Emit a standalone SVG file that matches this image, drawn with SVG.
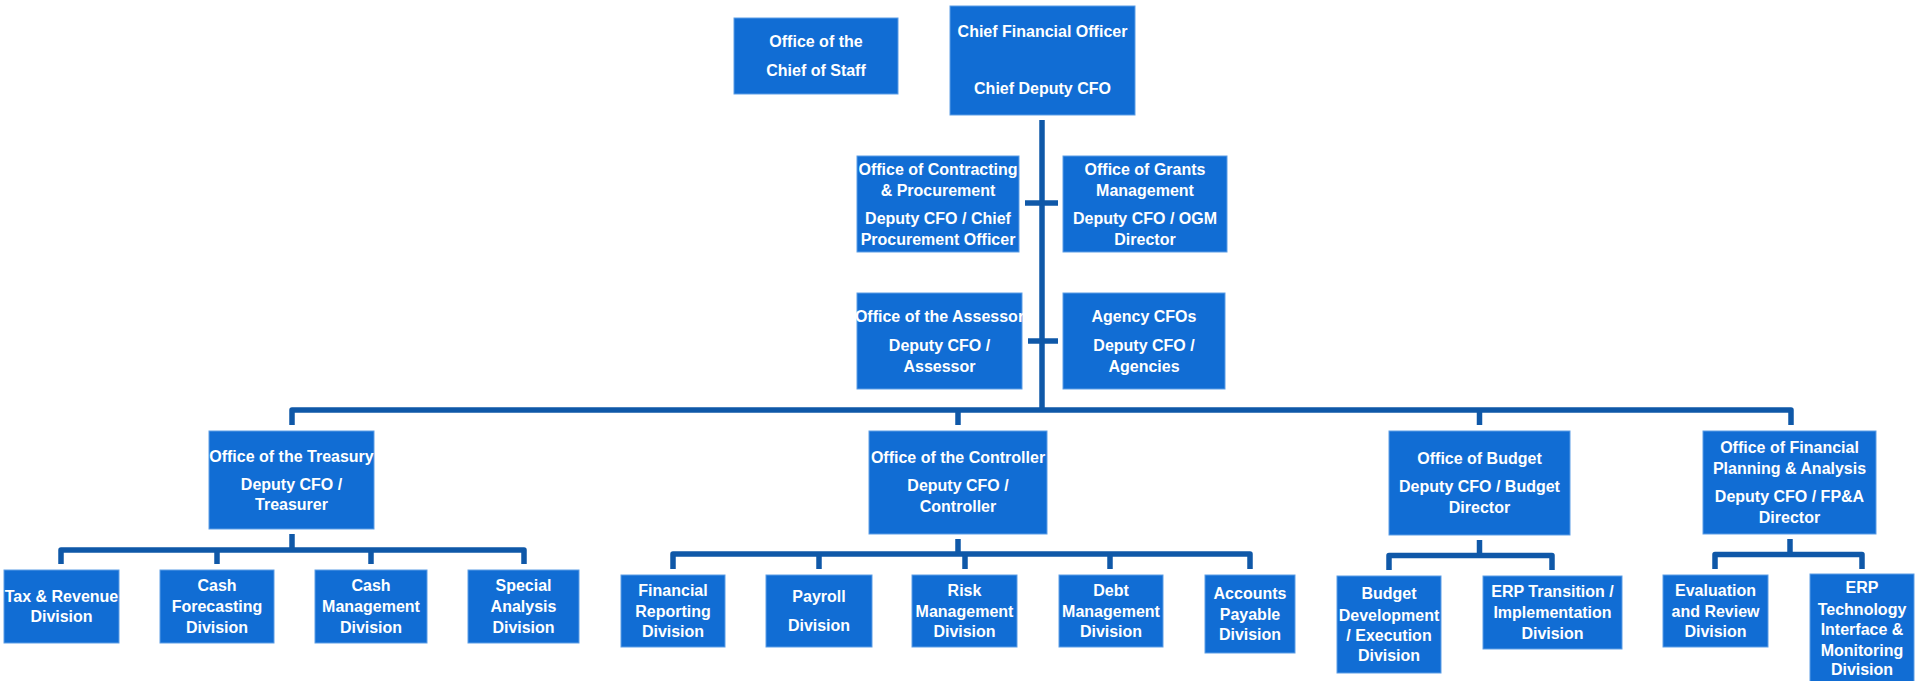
<svg xmlns="http://www.w3.org/2000/svg" width="1915" height="681" viewBox="0 0 1915 681">
<style>
.box{fill:#116dd4;stroke:#5d9ee6;stroke-width:1}
.t{fill:#ffffff;font-family:"Liberation Sans",Arial,sans-serif;font-weight:bold;font-size:16px;text-anchor:middle}
.c{fill:none;stroke:#0f58a8;stroke-width:5.5;stroke-linejoin:round}
</style>
<rect width="1915" height="681" fill="#ffffff"/>
<g id="connectors">
<path class="c" d="M1042 120 V410" stroke-width="6"/>
<path class="c" d="M1025 203 H1058"/>
<path class="c" d="M1028 341 H1058"/>
<path class="c" d="M292 425 V410 H1791 V425"/>
<path class="c" d="M958 410 V425"/>
<path class="c" d="M1479.5 410 V425"/>
<path class="c" d="M292 534 V550"/>
<path class="c" d="M61 564 V550 H524 V564"/>
<path class="c" d="M217 550 V564"/>
<path class="c" d="M371 550 V564"/>
<path class="c" d="M958 539 V554"/>
<path class="c" d="M673 569 V554 H1250 V569"/>
<path class="c" d="M819 554 V569"/>
<path class="c" d="M965 554 V569"/>
<path class="c" d="M1110 554 V569"/>
<path class="c" d="M1479.5 540 V555.5"/>
<path class="c" d="M1389 570 V555.5 H1552 V570"/>
<path class="c" d="M1790 539 V554.5"/>
<path class="c" d="M1715 569 V554.5 H1862 V569"/>
</g>
<g id="chief-of-staff"><rect class="box" x="734" y="18" width="164" height="76"/>
<text class="t" x="816" y="47">Office of the</text><text class="t" x="816" y="75.5">Chief of Staff</text></g>
<g id="cfo"><rect class="box" x="950" y="6" width="185" height="109"/>
<text class="t" x="1042.5" y="37">Chief Financial Officer</text><text class="t" x="1042.5" y="94">Chief Deputy CFO</text></g>
<g id="contracting"><rect class="box" x="857" y="156" width="162" height="96"/>
<text class="t" x="938" y="175">Office of Contracting</text><text class="t" x="938" y="195.5">&amp; Procurement</text>
<text class="t" x="938" y="224">Deputy CFO / Chief</text><text class="t" x="938" y="244.5">Procurement Officer</text></g>
<g id="grants"><rect class="box" x="1063" y="156" width="164" height="96"/>
<text class="t" x="1145" y="175">Office of Grants</text><text class="t" x="1145" y="195.5">Management</text>
<text class="t" x="1145" y="224">Deputy CFO / OGM</text><text class="t" x="1145" y="244.5">Director</text></g>
<g id="assessor"><rect class="box" x="857" y="293" width="165" height="96"/>
<text class="t" x="939.5" y="322">Office of the Assessor</text><text class="t" x="939.5" y="350.5">Deputy CFO /</text><text class="t" x="939.5" y="371.5">Assessor</text></g>
<g id="agency"><rect class="box" x="1063" y="293" width="162" height="96"/>
<text class="t" x="1144" y="322">Agency CFOs</text><text class="t" x="1144" y="350.5">Deputy CFO /</text><text class="t" x="1144" y="371.5">Agencies</text></g>
<g id="treasury"><rect class="box" x="209" y="431" width="165" height="98"/>
<text class="t" x="291.5" y="461.5">Office of the Treasury</text><text class="t" x="291.5" y="489.5">Deputy CFO /</text><text class="t" x="291.5" y="510">Treasurer</text></g>
<g id="controller"><rect class="box" x="869" y="431" width="178" height="103"/>
<text class="t" x="958" y="463">Office of the Controller</text><text class="t" x="958" y="491">Deputy CFO /</text><text class="t" x="958" y="512">Controller</text></g>
<g id="budget"><rect class="box" x="1389" y="431" width="181" height="104"/>
<text class="t" x="1479.5" y="464">Office of Budget</text><text class="t" x="1479.5" y="492">Deputy CFO / Budget</text><text class="t" x="1479.5" y="512.5">Director</text></g>
<g id="fpa"><rect class="box" x="1703" y="431" width="173" height="103"/>
<text class="t" x="1789.5" y="453">Office of Financial</text><text class="t" x="1789.5" y="474">Planning &amp; Analysis</text>
<text class="t" x="1789.5" y="502">Deputy CFO / FP&amp;A</text><text class="t" x="1789.5" y="523">Director</text></g>
<g id="tax-revenue"><rect class="box" x="4" y="570" width="115" height="73"/>
<text class="t" x="61.5" y="602">Tax &amp; Revenue</text><text class="t" x="61.5" y="622">Division</text></g>
<g id="cash-forecasting"><rect class="box" x="160" y="570" width="114" height="73"/>
<text class="t" x="217" y="590.5">Cash</text><text class="t" x="217" y="612">Forecasting</text><text class="t" x="217" y="632.5">Division</text></g>
<g id="cash-management"><rect class="box" x="315" y="570" width="112" height="73"/>
<text class="t" x="371" y="590.5">Cash</text><text class="t" x="371" y="612">Management</text><text class="t" x="371" y="632.5">Division</text></g>
<g id="special-analysis"><rect class="box" x="468" y="570" width="111" height="73"/>
<text class="t" x="523.5" y="590.5">Special</text><text class="t" x="523.5" y="612">Analysis</text><text class="t" x="523.5" y="632.5">Division</text></g>
<g id="financial-reporting"><rect class="box" x="621" y="575" width="104" height="72"/>
<text class="t" x="673" y="596">Financial</text><text class="t" x="673" y="617">Reporting</text><text class="t" x="673" y="636.5">Division</text></g>
<g id="payroll"><rect class="box" x="766" y="575" width="106" height="72"/>
<text class="t" x="819" y="602">Payroll</text><text class="t" x="819" y="631">Division</text></g>
<g id="risk"><rect class="box" x="912" y="575" width="105" height="72"/>
<text class="t" x="964.5" y="596">Risk</text><text class="t" x="964.5" y="617">Management</text><text class="t" x="964.5" y="636.5">Division</text></g>
<g id="debt"><rect class="box" x="1059" y="575" width="104" height="72"/>
<text class="t" x="1111" y="596">Debt</text><text class="t" x="1111" y="617">Management</text><text class="t" x="1111" y="636.5">Division</text></g>
<g id="accounts-payable"><rect class="box" x="1205" y="575" width="90" height="78"/>
<text class="t" x="1250" y="599">Accounts</text><text class="t" x="1250" y="620">Payable</text><text class="t" x="1250" y="640">Division</text></g>
<g id="budget-development"><rect class="box" x="1337" y="576" width="104" height="97"/>
<text class="t" x="1389" y="599">Budget</text><text class="t" x="1389" y="620.5">Development</text><text class="t" x="1389" y="641">/ Execution</text><text class="t" x="1389" y="661">Division</text></g>
<g id="erp-transition"><rect class="box" x="1483" y="576" width="139" height="73"/>
<text class="t" x="1552.5" y="597">ERP Transition /</text><text class="t" x="1552.5" y="618">Implementation</text><text class="t" x="1552.5" y="638.5">Division</text></g>
<g id="evaluation"><rect class="box" x="1663" y="575" width="105" height="72"/>
<text class="t" x="1715.5" y="596">Evaluation</text><text class="t" x="1715.5" y="616.5">and Review</text><text class="t" x="1715.5" y="636.5">Division</text></g>
<g id="erp-technology"><rect class="box" x="1810" y="574" width="104" height="110"/>
<text class="t" x="1862" y="593">ERP</text><text class="t" x="1862" y="614.5">Technology</text><text class="t" x="1862" y="634.5">Interface &amp;</text><text class="t" x="1862" y="655.5">Monitoring</text><text class="t" x="1862" y="674.5">Division</text></g>
</svg>
